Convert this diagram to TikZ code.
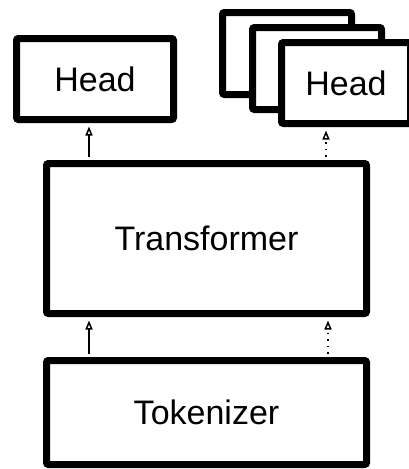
\documentclass[tikz,border=0pt]{standalone}
\usepackage{fontspec}
\setmainfont{Liberation Sans}
\usetikzlibrary{arrows.meta}
\begin{document}
\begin{tikzpicture}[x=1pt,y=-1pt,
  box/.style={draw=black, fill=white, line width=7pt, rounded corners=2pt, inner sep=0pt,
    font=\fontsize{34}{40}\selectfont},
  arr/.style={line width=1.5pt, -{Triangle[open, length=9pt, width=7pt, line width=1.5pt]}},
  dotarr/.style={arr, dash pattern=on 1.5pt off 5pt}]
\useasboundingbox (0,0) rectangle (409,469);
\clip (0,0) rectangle (409,469);
\node[box, minimum width=157pt, minimum height=81pt] (h1) at (95,79) {Head};
\node[box, minimum width=129pt, minimum height=82pt] (hb) at (287,53.5) {};
\node[box, minimum width=129pt, minimum height=82pt] (hm) at (317,68.5) {};
\node[box, minimum width=129pt, minimum height=81pt] (hf) at (346,83) {Head};
\node[box, minimum width=320pt, minimum height=150pt] (tr) at (206.5,238.5) {Transformer};
\node[box, minimum width=320pt, minimum height=104pt] (tk) at (206.5,412.5) {Tokenizer};
\coordinate (la) at (89,0);
\coordinate (ra) at (326,0);
\coordinate (rb) at (328,0);
\draw[arr] ([yshift=3.5pt]tr.north -| la) -- ([yshift=-3.5pt]h1.south -| la);
\draw[dotarr] ([yshift=3.5pt]tr.north -| ra) -- ([yshift=-3.5pt]hf.south -| ra);
\draw[arr] ([yshift=3.5pt]tk.north -| la) -- ([yshift=-3.5pt]tr.south -| la);
\draw[dotarr] ([yshift=3.5pt]tk.north -| rb) -- ([yshift=-3.5pt]tr.south -| rb);
\end{tikzpicture}
\end{document}
